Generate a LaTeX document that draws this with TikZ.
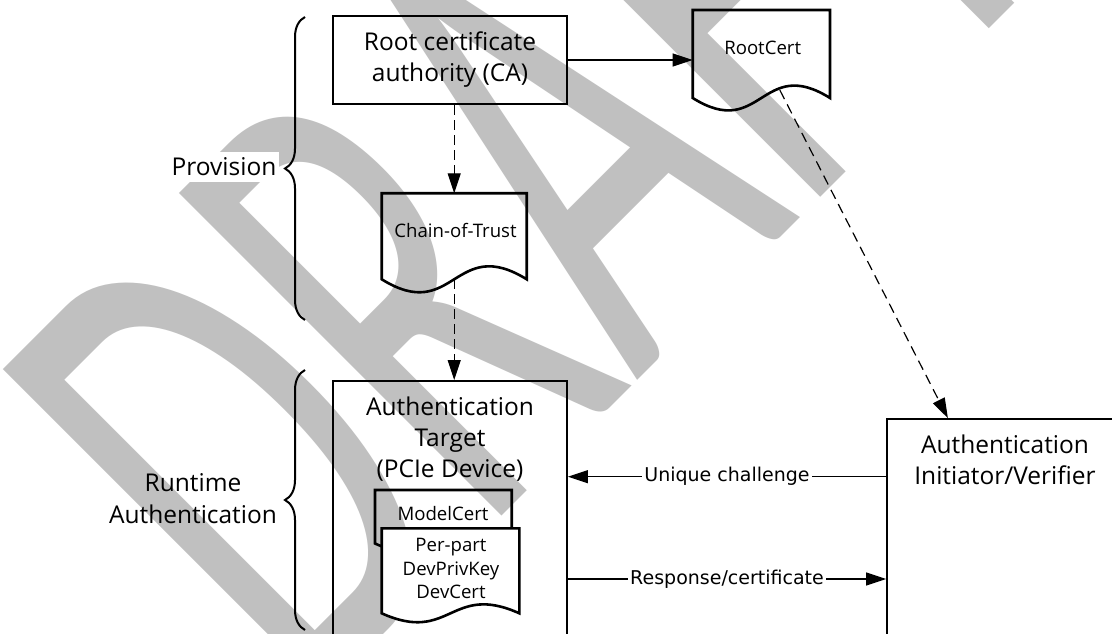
\documentclass[tikz,border=0pt]{standalone}
\usepackage{fontspec}
\usepackage{graphicx}
\setmainfont{Open Sans}
\newfontfamily\labelfont{DejaVu Sans}
\newfontfamily\stampfont{Carlito}
\usetikzlibrary{arrows.meta,calc,decorations.pathreplacing}
\definecolor{stampgray}{HTML}{C0C0C0}

\tikzset{
  box/.style={draw, line width=1.8bp, rectangle, inner sep=0pt},
  docarea/.style={rectangle, inner sep=0pt, outer sep=0pt},
  docline/.style={line width=2.6bp, line join=miter},
  boxtext/.style={font=\fontsize{24.5bp}{31bp}\selectfont, align=center, inner sep=0pt},
  doctext/.style={font=\fontsize{18.6bp}{23.2bp}\selectfont, align=center, inner sep=0pt},
  msg/.style={line width=1.2bp, -{Triangle[length=20bp,width=13bp]}},
  dashedmsg/.style={msg, dash pattern=on 10bp off 5bp},
  msglabel/.style={font=\labelfont\fontsize{19bp}{23bp}\selectfont, fill=white, inner xsep=2bp, inner ysep=1bp},
  bracket/.style={line width=2bp, decorate, decoration={brace, amplitude=20bp}},
  phase/.style={font=\fontsize{24.5bp}{32bp}\selectfont, align=center, inner sep=0pt},
}

% document symbol: flat top, straight sides, S-shaped wavy bottom
\newcommand\docbody[3][]{%
  \draw[docline,#1] (#2.north west) -- (#2.north east) -- (#2.south east)
    .. controls ($(#2.south)+(0,-#3)$) and ($(#2.south)+(0,#3)$) .. (#2.south west) -- cycle;}

\begin{document}
\begin{tikzpicture}[x=1bp,y=-1bp]
\useasboundingbox (0,0) rectangle (1112,634);
\fill[white] (0,0) rectangle (1112,634);
\begin{scope}
\clip (0,0) rectangle (1112,634);

% background stamp
\node[rotate=45, anchor=base west, inner sep=0pt, text=stampgray] (stamp) at (306.2,712.1)
  {\scalebox{0.567}[1]{\stampfont\fontsize{711bp}{711bp}\selectfont DRAFT}};

% phase brackets
\draw[bracket] (305,320) -- (305,17);
\draw[bracket] (305,630) -- (305,370);
\node[phase, fill=white, inner xsep=3bp, inner ysep=6bp, anchor=base] (prov) at (224,176) {Provision};
\node[phase, anchor=north] (runtime) at (193,473.4) {Runtime\\Authentication};

% boxes
\node[box, boxtext, minimum width=234bp, minimum height=88.5bp] (rootca) at (450,60)
  {Root certificate\\authority (CA)};
\node[box, minimum width=234bp, minimum height=260bp] (target) at (450,511) {};
\node[boxtext, anchor=north] (targettext) at (450,396.4) {Authentication\\Target\\(PCIe Device)};
\node[box, minimum width=236bp, minimum height=222bp] (init) at (1005,530) {};
\node[boxtext, anchor=north] (inittext) at (1005,434.4) {Authentication\\Initiator/Verifier};

% documents
\node[docarea, minimum width=137.3bp, minimum height=88bp] (rootcert) at (761.35,54) {};
\docbody{rootcert}{43}
\node[doctext, anchor=base] (rootcerttext) at (762.7,55) {RootCert};

\node[docarea, minimum width=145bp, minimum height=86bp] (cot) at (454.2,236.3) {};
\docbody{cot}{45}
\node[doctext, anchor=base] (cottext) at (455.5,237.3) {Chain-of-Trust};

\node[docarea, minimum width=136.7bp, minimum height=53.5bp] (modelcert) at (443.35,516.75) {};
\docbody{modelcert}{31}
\node[doctext, anchor=base] (modeltext) at (443,520) {ModelCert};

\node[docarea, minimum width=137.6bp, minimum height=85bp] (perpart) at (450.5,570.8) {};
\docbody[fill=white]{perpart}{31}
\node[doctext, anchor=north] (parttext) at (451,538.4) {Per-part\\DevPrivKey\\DevCert};

% connectors
\draw[msg] (rootca.east) -- (rootca.east -| rootcert.west);
\draw[dashedmsg] (rootca.south -| cot.north) -- (cot.north);
\draw[dashedmsg] (cot.south) -- (cot.south |- target.north);
\coordinate (certtail) at ($(rootcert.center)!0.076!(init.center)$);
\draw[dashedmsg, dash pattern=on 10bp off 6bp] (certtail) -- (init);

\coordinate (chal) at ($(init.west)+(0,-53.3)$);
\coordinate (resp) at ($(init.west)+(0,49)$);
\draw[msg] (chal) -- (chal -| target.east) node[msglabel, midway] {Unique challenge};
\draw[msg] (resp -| target.east) -- (resp) node[msglabel, midway] {Response/certificate};
\end{scope}
\end{tikzpicture}
\end{document}
